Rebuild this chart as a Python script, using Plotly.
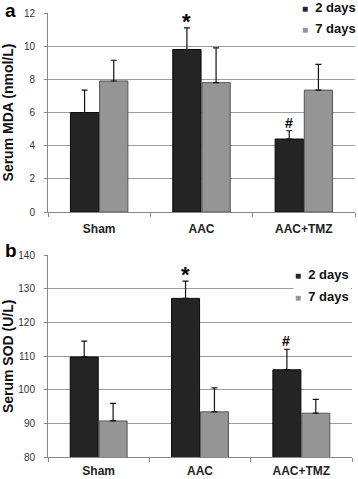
import plotly.graph_objects as go

categories = ["Sham", "AAC", "AAC+TMZ"]
series_names = ["2 days", "7 days"]

mda_2d = [6.0, 9.8, 4.4]
mda_2d_err = [1.35, 1.3, 0.5]
mda_7d = [7.9, 7.8, 7.35]
mda_7d_err = [1.25, 2.1, 1.55]

sod_2d = [109.8, 127.2, 106.0]
sod_2d_err = [4.7, 5.1, 6.1]
sod_7d = [90.8, 93.5, 93.1]
sod_7d_err = [5.2, 7.1, 4.1]

mda_ticks = [0, 2, 4, 6, 8, 10, 12]
sod_ticks = [80, 90, 100, 110, 120, 130, 140]

W, H = 358, 479
FONT = "Liberation Sans, Arial, sans-serif"
DARK = "#242424"
LIGHT = "#959595"
SERIES_COLORS = [DARK, LIGHT]
SERIES_LINES = ["#0a0a0a", "#555555"]

fig = go.Figure()

def add_bars(vals, errs, idx, xa, ya):
    fig.add_trace(go.Bar(
        x=categories, y=vals, name=series_names[idx], xaxis=xa, yaxis=ya, showlegend=False,
        marker=dict(color=SERIES_COLORS[idx], line=dict(color=SERIES_LINES[idx], width=1)),
        error_y=dict(type="data", array=errs, arrayminus=[0] * len(errs), symmetric=False,
                     color="#111111", thickness=1.2, width=3),
    ))

add_bars(mda_2d, mda_2d_err, 0, "x", "y")
add_bars(mda_7d, mda_7d_err, 1, "x", "y")
add_bars(sod_2d, sod_2d_err, 0, "x2", "y2")
add_bars(sod_7d, sod_7d_err, 1, "x2", "y2")

xdom = [48 / W, 355 / W]
xdom2 = [48 / W, 352 / W]
ydom = [(H - 212) / H, (H - 13) / H]
ydom2 = [(H - 457.3) / H, (H - 255.3) / H]

axis_x_common = dict(
    type="category", tickson="boundaries", ticks="outside", ticklen=4,
    tickcolor="#888888", showline=True, linecolor="#888888", linewidth=1,
    showgrid=False, automargin=False,
    tickfont=dict(family=FONT, size=12, color="#222222"),
    tickvals=categories, ticktext=[f"<b>{c}</b>" for c in categories],
)
axis_y_common = dict(
    showline=True, linecolor="#888888", linewidth=1, ticks="outside", ticklen=3,
    tickcolor="#888888", showgrid=True, gridcolor="#9c9c9c", gridwidth=1,
    zeroline=False, automargin=False, ticklabelstandoff=7,
    tickfont=dict(family=FONT, size=10, color="#333333"),
)

fig.update_layout(
    width=W, height=H, margin=dict(l=0, r=0, t=0, b=0, autoexpand=False),
    paper_bgcolor="white", plot_bgcolor="white",
    barmode="group", bargap=0.43, bargroupgap=0.03,
    font=dict(family=FONT), showlegend=False,
    xaxis=dict(domain=xdom, anchor="y", ticklabelstandoff=6, **axis_x_common),
    yaxis=dict(domain=ydom, anchor="x", range=[0, 12], tickvals=mda_ticks,
               title=dict(text="<b>Serum MDA (nmol/L)</b>", font=dict(family=FONT, size=14, color="#111111"), standoff=9),
               **axis_y_common),
    xaxis2=dict(domain=xdom2, anchor="y2", ticklabelstandoff=2, **axis_x_common),
    yaxis2=dict(domain=ydom2, anchor="x2", range=[80, 140], tickvals=sod_ticks,
                title=dict(text="<b>Serum SOD (U/L)</b>", font=dict(family=FONT, size=14, color="#111111"), standoff=9),
                **axis_y_common),
)

ann = []
ann.append(dict(text="<b>a</b>", x=3 / W, y=1.0 + 2 / H, xref="paper", yref="paper", xanchor="left", yanchor="top",
                showarrow=False, font=dict(family=FONT, size=19, color="#000")))
ann.append(dict(text="<b>b</b>", x=3 / W, y=(H - 238) / H, xref="paper", yref="paper", xanchor="left", yanchor="top",
                showarrow=False, font=dict(family=FONT, size=19, color="#000")))

# legend entries (small square + bold label), one block per panel
def legend_block(x_px, y_px_list):
    for i, name in enumerate(series_names):
        ann.append(dict(
            text=f"<span style='color:{SERIES_COLORS[i]};font-size:10px'>■</span>  <b>{name}</b>",
            x=x_px / W, y=(H - y_px_list[i]) / H, xref="paper", yref="paper",
            xanchor="left", yanchor="middle", showarrow=False, bgcolor="white",
            font=dict(family=FONT, size=13, color="#111111"),
        ))

legend_block(300, [8, 29])
legend_block(293, [274, 297])

# significance markers above the 2-day bars
ann.append(dict(text="<b>*</b>", x=categories[1], y=mda_2d[1] + mda_2d_err[1], xref="x", yref="y",
                xshift=-15, yanchor="bottom", yshift=-8, showarrow=False, font=dict(family=FONT, size=22, color="#000")))
ann.append(dict(text="<b>#</b>", x=categories[2], y=mda_2d[2] + mda_2d_err[2], xref="x", yref="y",
                xshift=-15, yanchor="bottom", yshift=-2, showarrow=False, font=dict(family=FONT, size=14, color="#000")))
ann.append(dict(text="<b>*</b>", x=categories[1], y=sod_2d[1] + sod_2d_err[1], xref="x2", yref="y2",
                xshift=-15, yanchor="bottom", yshift=-8, showarrow=False, font=dict(family=FONT, size=22, color="#000")))
ann.append(dict(text="<b>#</b>", x=categories[2], y=sod_2d[2] + sod_2d_err[2], xref="x2", yref="y2",
                xshift=-15, yanchor="bottom", yshift=-2, showarrow=False, font=dict(family=FONT, size=14, color="#000")))
fig.update_layout(annotations=ann)

fig.write_html("out.html", config={"displayModeBar": False},
               post_script="document.body.style.margin='0';")
